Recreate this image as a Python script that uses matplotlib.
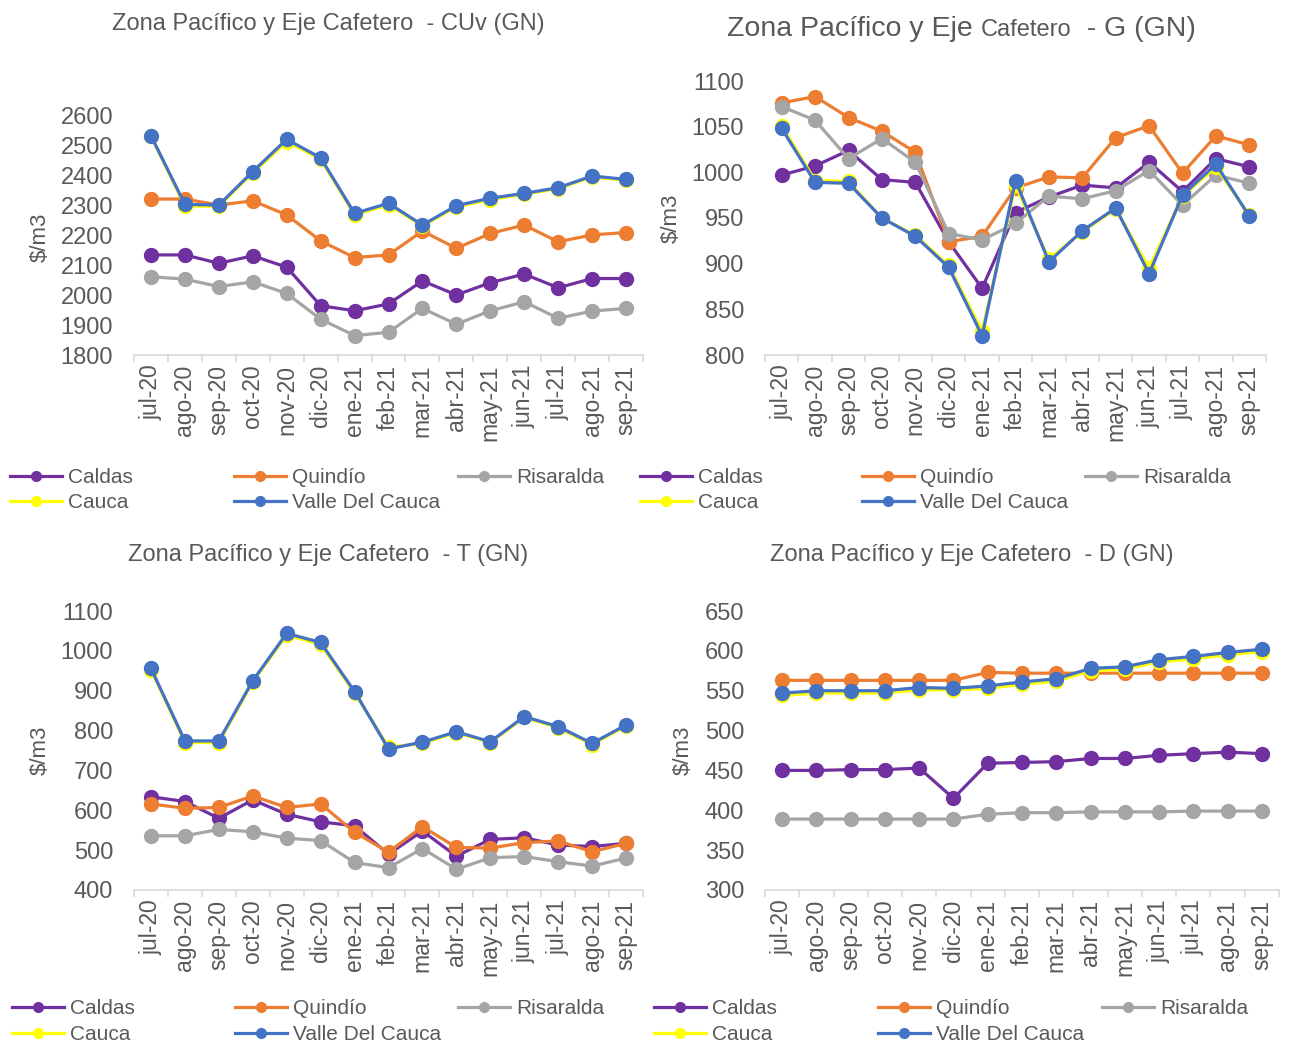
import matplotlib
matplotlib.use("Agg")
import matplotlib.pyplot as plt
from matplotlib.lines import Line2D

plt.rcParams["font.family"] = ["Liberation Sans", "DejaVu Sans"]

W, H = 1291, 1046
TXT = "#595959"
AXC = "#d9d9d9"

months = ["jul-20", "ago-20", "sep-20", "oct-20", "nov-20", "dic-20", "ene-21",
          "feb-21", "mar-21", "abr-21", "may-21", "jun-21", "jul-21", "ago-21", "sep-21"]
series_names = ["Caldas", "Quindío", "Risaralda", "Cauca", "Valle Del Cauca"]
colors = ["#7030A0", "#ED7D31", "#A5A5A5", "#FFFF00", "#4472C4"]

# CUv (GN)
cuv_caldas = [2135, 2135, 2107, 2132, 2094, 1965, 1948, 1971, 2048, 2001, 2042, 2071, 2025, 2056, 2056]
cuv_quindio = [2322, 2322, 2302, 2316, 2269, 2182, 2126, 2135, 2215, 2157, 2207, 2235, 2179, 2202, 2210]
cuv_risaralda = [2062, 2054, 2029, 2045, 2006, 1920, 1865, 1876, 1956, 1903, 1948, 1978, 1923, 1947, 1956]
cuv_cauca = [2532, 2298, 2298, 2410, 2514, 2456, 2269, 2303, 2232, 2296, 2320, 2338, 2357, 2396, 2385]
cuv_valle = [2534, 2304, 2302, 2414, 2522, 2460, 2274, 2308, 2235, 2300, 2325, 2341, 2360, 2399, 2388]

# G (GN)
g_caldas = [997, 1007, 1024, 992, 989, 924, 873, 956, 973, 986, 983, 1011, 979, 1015, 1006]
g_quindio = [1076, 1083, 1060, 1045, 1022, 924, 930, 983, 995, 994, 1038, 1051, 999, 1040, 1030]
g_risaralda = [1072, 1057, 1015, 1037, 1011, 933, 926, 944, 974, 971, 980, 1002, 964, 997, 988]
g_cauca = [1051, 991, 990, 950, 931, 898, 826, 986, 905, 935, 960, 895, 974, 1006, 953]
g_valle = [1048, 989, 988, 950, 930, 896, 821, 991, 902, 936, 961, 889, 975, 1009, 952]

# T (GN)
t_caldas = [634, 622, 580, 626, 590, 571, 561, 490, 548, 485, 527, 531, 513, 509, 517]
t_quindio = [616, 605, 607, 636, 607, 616, 545, 495, 559, 507, 505, 519, 523, 496, 517]
t_risaralda = [536, 536, 552, 546, 530, 524, 469, 456, 504, 452, 481, 484, 471, 460, 480]
t_cauca = [953, 770, 770, 922, 1040, 1016, 895, 758, 768, 795, 770, 833, 807, 765, 812]
t_valle = [956, 774, 774, 925, 1044, 1021, 898, 754, 771, 797, 772, 835, 810, 768, 814]

# D (GN)
d_caldas = [450, 450, 451, 451, 453, 415, 459, 460, 461, 465, 465, 469, 471, 473, 471]
d_quindio = [563, 563, 563, 563, 563, 563, 573, 572, 572, 572, 572, 572, 572, 572, 572]
d_risaralda = [389, 389, 389, 389, 389, 389, 395, 397, 397, 398, 398, 398, 399, 399, 399]
d_cauca = [544, 547, 547, 547, 551, 551, 553, 558, 562, 575, 577, 586, 590, 595, 599]
d_valle = [547, 550, 550, 550, 554, 553, 556, 561, 565, 578, 580, 589, 593, 598, 602]


def rect(l, t, r, b):
    return [l / W, 1 - b / H, (r - l) / W, (b - t) / H]


def fx(x):
    return x / W


def fy(y):
    return 1 - y / H


fig = plt.figure(figsize=(W / 100, H / 100), dpi=100)

panels = [
    (rect(134, 116, 643, 355), [cuv_caldas, cuv_quindio, cuv_risaralda, cuv_cauca, cuv_valle],
     (1800, 2600), 100),
    (rect(765, 81, 1266, 355), [g_caldas, g_quindio, g_risaralda, g_cauca, g_valle],
     (800, 1100), 50),
    (rect(134, 611, 643, 890), [t_caldas, t_quindio, t_risaralda, t_cauca, t_valle],
     (400, 1100), 100),
    (rect(765, 611, 1279, 890), [d_caldas, d_quindio, d_risaralda, d_cauca, d_valle],
     (300, 650), 50),
]

x = list(range(len(months)))
for pos, data, (ymin, ymax), step in panels:
    ax = fig.add_axes(pos)
    for vals, c in zip(data, colors):
        ax.plot(x, vals, color=c, lw=2.3, marker="o", markersize=10, zorder=3)
    ax.set_xlim(-0.5, len(months) - 0.5)
    ax.set_ylim(ymin, ymax)
    ax.set_yticks(range(ymin, ymax + 1, step))
    ax.set_xticks(x)
    ax.set_xticklabels(months, rotation=90)
    ax.set_xticks([i - 0.5 for i in range(len(months) + 1)], minor=True)
    ax.tick_params(axis="x", which="major", length=0, pad=7, labelsize=16.5, labelcolor=TXT)
    ax.tick_params(axis="x", which="minor", length=5, color=AXC, width=1.2)
    ax.tick_params(axis="y", length=0, pad=15, labelsize=17, labelcolor=TXT)
    for s in ["top", "right", "left"]:
        ax.spines[s].set_visible(False)
    ax.spines["bottom"].set_color(AXC)
    ax.spines["bottom"].set_linewidth(1.2)
    ax.patch.set_alpha(0)

# y labels
for (px, py) in [(40, 237), (671, 218), (40, 750), (683, 750)]:
    fig.text(fx(px), fy(py), "$/m3", rotation=90, ha="center", va="center",
             fontsize=16, color=TXT)

# titles
fig.text(fx(112), fy(30), "Zona Pacífico y Eje Cafetero  - CUv (GN)", fontsize=17,
         color=TXT, ha="left", va="baseline")
fig.text(fx(128), fy(561), "Zona Pacífico y Eje Cafetero  - T (GN)", fontsize=17,
         color=TXT, ha="left", va="baseline")
fig.text(fx(770), fy(561), "Zona Pacífico y Eje Cafetero  - D (GN)", fontsize=17,
         color=TXT, ha="left", va="baseline")

renderer = fig.canvas.get_renderer()
cur = 727
for part, fs in [("Zona Pacífico y Eje ", 20.5), ("Cafetero", 17), ("  - G (GN)", 20.5)]:
    t = fig.text(fx(cur), fy(36), part, fontsize=fs, color=TXT, ha="left", va="baseline")
    cur = t.get_window_extent(renderer).x1

# legends
rows_top = [(478, 503), (1009, 1035)]
cols = [(10, 234, 458), (640, 862, 1085), (12, 235, 458), (654, 878, 1102)]
row_of = [(0, 0), (0, 1), (0, 2), (1, 0), (1, 1)]
for p in range(4):
    ry = rows_top[p // 2]
    for k, name in enumerate(series_names):
        r, c = row_of[k]
        h = Line2D([], [], color=colors[k], lw=2.3, marker="o", markersize=7)
        fig.legend([h], [name], loc="center left",
                   bbox_to_anchor=(fx(cols[p][c]), fy(ry[r])),
                   frameon=False, borderpad=0, borderaxespad=0,
                   handlelength=2.5, handletextpad=0.3, fontsize=15,
                   labelcolor=TXT)

fig.savefig("out.png", dpi=100)
